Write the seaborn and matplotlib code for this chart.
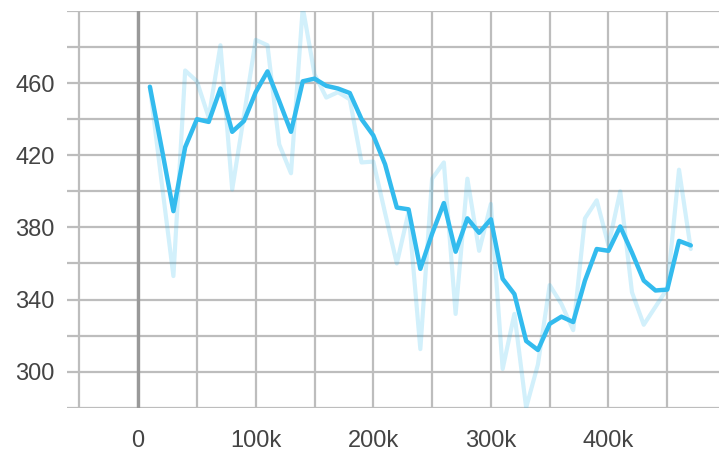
import numpy as np
import pandas as pd
import matplotlib
matplotlib.use("Agg")
import matplotlib.pyplot as plt
import seaborn as sns

# step values (every 10k)
steps = [10000, 20000, 30000, 40000, 50000, 60000, 70000, 80000, 90000, 100000,
         110000, 120000, 130000, 140000, 150000, 160000, 170000, 180000, 190000, 200000,
         210000, 220000, 230000, 240000, 250000, 260000, 270000, 280000, 290000, 300000,
         310000, 320000, 330000, 340000, 350000, 360000, 370000, 380000, 390000, 400000,
         410000, 420000, 430000, 440000, 450000, 460000, 470000]

raw_values = [458, 405, 353, 467, 461, 441, 481, 401, 442, 484,
              481, 426, 410, 502, 465, 452, 455, 451, 416, 416.5,
              388, 360, 388.5, 312.5, 407, 416, 332, 407, 367, 393,
              301.5, 332, 280, 304, 348, 337.5, 323, 385, 395, 370,
              400, 344, 326, 336, 346, 412, 368]

smoothed_values = [458, 424, 389, 424.5, 440, 438.5, 457, 433, 439, 455,
                   466.5, 450, 433, 461, 462.5, 458.5, 457, 454.5, 440, 431,
                   415, 391, 390, 357, 376.5, 393.5, 366.5, 385, 377, 384.5,
                   351.5, 343, 317, 312, 326.5, 330.5, 327.5, 350.5, 368, 367,
                   380.5, 366, 350.5, 345, 345.5, 372.5, 370]

x_ticks = [-50000, 0, 50000, 100000, 150000, 200000, 250000, 300000, 350000, 400000, 450000]
x_labels = ["", "0", "", "100k", "", "200k", "", "300k", "", "400k", ""]
y_ticks = [280, 300, 320, 340, 360, 380, 400, 420, 440, 460, 480, 500]
y_labels = ["", "300", "", "340", "", "380", "", "420", "", "460", "", ""]

LINE_COLOR = "#33bbee"
GRID_COLOR = "#bdbdbd"
TEXT_COLOR = "#444444"

sns.set_style("white")
plt.rcParams["font.family"] = ["Liberation Sans", "DejaVu Sans"]

df = pd.DataFrame({"step": steps, "raw": raw_values, "smoothed": smoothed_values})

fig = plt.figure(figsize=(7.19, 4.55), dpi=100)
ax = fig.add_axes([67 / 719, 1 - 407.7 / 455, (719 - 67) / 719, (407.7 - 11) / 455])

sns.lineplot(data=df, x="step", y="raw", ax=ax, color=LINE_COLOR, alpha=0.22, lw=3.0, zorder=3)
sns.lineplot(data=df, x="step", y="smoothed", ax=ax, color=LINE_COLOR, lw=3.2, zorder=4)

ax.set_xlim(-60500, 494000)
ax.set_ylim(280, 500)

ax.set_xticks(x_ticks)
ax.set_xticklabels(x_labels)
ax.set_yticks(y_ticks)
ax.set_yticklabels(y_labels)

ax.grid(True, color=GRID_COLOR, lw=1.6, zorder=0)
ax.axvline(0, color="#999999", lw=2.4, zorder=1)

for s in ax.spines.values():
    s.set_visible(False)

ax.tick_params(axis="x", length=7, width=1.6, color=GRID_COLOR, pad=9,
               labelsize=17, labelcolor=TEXT_COLOR)
ax.tick_params(axis="y", length=0, pad=9, labelsize=17, labelcolor=TEXT_COLOR)
ax.set_xlabel("")
ax.set_ylabel("")

fig.savefig("out.png", dpi=100)
plt.close(fig)
